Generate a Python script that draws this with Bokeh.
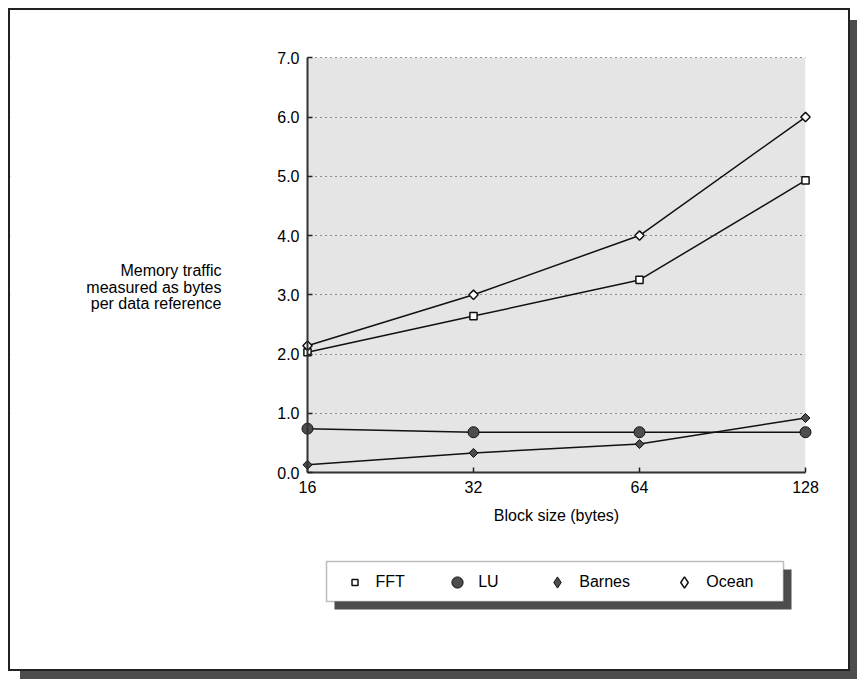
import math
from bokeh.plotting import figure
from bokeh.models import (Range1d, FixedTicker, PrintfTickFormatter, Label, BoxAnnotation,
                          Legend, LegendItem, ColumnDataSource)
from bokeh.embed import file_html
from bokeh.resources import INLINE

# ---- data ----
block_sizes = [16, 32, 64, 128]
fft = [2.03, 2.64, 3.25, 4.93]
lu = [0.74, 0.68, 0.68, 0.68]
barnes = [0.13, 0.33, 0.48, 0.92]
ocean = [2.14, 3.0, 4.0, 6.0]
y_ticks = [0, 1, 2, 3, 4, 5, 6, 7]
grid_ticks = [1, 2, 3, 4, 5, 6, 7]
x_tick_labels = ["16", "32", "64", "128"]
y_title_lines = ["Memory traffic", "measured as bytes", "per data reference"]
x_title = "Block size (bytes)"
series_names = ["FFT", "LU", "Barnes", "Ocean"]

FONT = "Liberation Sans"
INK = "#111111"
DARK = "#4d4d4d"
PANEL = "#e5e5e5"

# ---- layout (page pixels) ----
W, H = 838, 659            # canvas size
ORG_X, ORG_Y = 10, 10      # canvas top-left on the page
AX_X0, AX_X1 = 307.0, 805.0   # page x of first / last block size
AX_Y0, AX_Y7 = 472.0, 57.3    # page y of 0 and 7

px_per_doubling = (AX_X1 - AX_X0) / math.log2(block_sizes[-1] / block_sizes[0])
x_start = block_sizes[0] * 2 ** (-(AX_X0 - ORG_X) / px_per_doubling)
x_end = block_sizes[-1] * 2 ** ((ORG_X + W - AX_X1) / px_per_doubling)
px_per_unit = (AX_Y0 - AX_Y7) / (y_ticks[-1] - y_ticks[0])
y_start = y_ticks[0] - (ORG_Y + H - AX_Y0) / px_per_unit
y_end = y_ticks[-1] + (AX_Y7 - ORG_Y) / px_per_unit


def sx(page_x):
    return page_x - ORG_X


def sy(page_y):
    return ORG_Y + H - page_y


p = figure(width=W, height=H, x_axis_type="log",
           x_range=Range1d(x_start, x_end), y_range=Range1d(y_start, y_end),
           output_backend="svg", toolbar_location=None, title=None,
           min_border=0, min_border_left=0, min_border_right=0, min_border_top=0, min_border_bottom=0,
           background_fill_color="white", border_fill_color="white")
p.outline_line_color = None
p.styles = {"margin": f"{ORG_Y}px 0 0 {ORG_X}px",
            "box-shadow": "0 0 0 2px #222222, 10px 10px 0 0 #4d4d4d"}

# grey plotting panel
p.add_layout(BoxAnnotation(left=block_sizes[0], right=block_sizes[-1], bottom=y_ticks[0], top=y_ticks[-1],
                           fill_color=PANEL, fill_alpha=1, line_color=None, level="image"))

# grid
p.xgrid.visible = False
p.ygrid.ticker = FixedTicker(ticks=grid_ticks)
p.ygrid.grid_line_color = "#333333"
p.ygrid.grid_line_dash = "1 4"
p.ygrid.grid_line_width = 1

# white covers so grid stays inside the panel
p.add_layout(BoxAnnotation(right=block_sizes[0], fill_color="white", fill_alpha=1, line_color=None, level="underlay"))
p.add_layout(BoxAnnotation(left=block_sizes[-1], fill_color="white", fill_alpha=1, line_color=None, level="underlay"))

# axes
for ax in (p.xaxis, p.yaxis):
    ax.axis_line_color = "#333333"
    ax.axis_line_width = 2
    ax.major_tick_in = 5
    ax.major_tick_out = 0
    ax.major_tick_line_color = "#222222"
    ax.major_tick_line_width = 1.5
    ax.minor_tick_line_color = None
    ax.major_label_text_font = FONT
    ax.major_label_text_font_size = "16px"
    ax.major_label_text_color = "black"
    ax.major_label_standoff = 8

p.xaxis.ticker = FixedTicker(ticks=block_sizes)
p.xaxis.major_label_overrides = {v: s for v, s in zip(block_sizes, x_tick_labels)}
p.xaxis.fixed_location = y_ticks[0]
p.xaxis.bounds = (block_sizes[0], block_sizes[-1])
p.xaxis.axis_label = x_title
p.xaxis.axis_label_text_font = FONT
p.xaxis.axis_label_text_font_size = "16px"
p.xaxis.axis_label_text_font_style = "normal"
p.xaxis.axis_label_text_color = "black"
p.xaxis.axis_label_standoff = 11

p.yaxis.ticker = FixedTicker(ticks=y_ticks)
p.yaxis.formatter = PrintfTickFormatter(format="%.1f")
p.yaxis.fixed_location = block_sizes[0]
p.yaxis.bounds = (y_ticks[0], y_ticks[-1])

# series
for ys in (fft, lu, barnes, ocean):
    p.line(block_sizes, ys, line_color=INK, line_width=1.5)

r_fft = p.scatter(block_sizes, fft, marker="square", size=7.2, fill_color="white", line_color=INK, line_width=1.5)
r_lu = p.scatter(block_sizes, lu, marker="circle", size=11, fill_color=DARK, line_color=INK, line_width=1)
r_barnes = p.scatter(block_sizes, barnes, marker="square", angle=math.pi / 4, size=6.4,
                     fill_color=DARK, line_color=INK, line_width=1)
r_ocean = p.scatter(block_sizes, ocean, marker="square", angle=math.pi / 4, size=6.6,
                    fill_color="white", line_color=INK, line_width=1.5)

# legend proxies for diamond icons
nan_src = ColumnDataSource(dict(x=[float("nan")], y=[float("nan")]))
leg_barnes = p.scatter("x", "y", source=nan_src, marker="diamond", fill_color=DARK, line_color=INK, line_width=1)
leg_ocean = p.scatter("x", "y", source=nan_src, marker="diamond", fill_color="white", line_color=INK, line_width=1.5)

# legend box + shadow
p.add_layout(BoxAnnotation(left=sx(334), right=sx(791), top=sy(569), bottom=sy(609),
                           left_units="screen", right_units="screen", top_units="screen", bottom_units="screen",
                           fill_color=DARK, fill_alpha=1, line_color=None, level="guide"))
p.add_layout(BoxAnnotation(left=sx(326), right=sx(783), top=sy(561), bottom=sy(601),
                           left_units="screen", right_units="screen", top_units="screen", bottom_units="screen",
                           fill_color="white", fill_alpha=1, line_color="#222222", line_width=1.5, level="guide"))

legend_specs = [
    (series_names[0], r_fft, 346.5, 15, 14),
    (series_names[1], r_lu, 443.2, 28, 7),
    (series_names[2], leg_barnes, 543.3, 28, 8),
    (series_names[3], leg_ocean, 670.3, 28, 8),
]
for name, rend, lx, gw, standoff in legend_specs:
    lg = Legend(items=[LegendItem(label=name, renderers=[rend])], location=(sx(lx), sy(596.5)),
                orientation="horizontal", padding=0, margin=0, spacing=0,
                glyph_width=gw, glyph_height=30, label_height=30, label_standoff=standoff,
                label_text_font=FONT, label_text_font_size="16px", label_text_color="black",
                background_fill_alpha=0, border_line_color=None)
    p.add_layout(lg)

# y title (three right-aligned horizontal lines)
for text, yy in zip(y_title_lines, [270, 286.5, 303]):
    p.add_layout(Label(x=sx(221), y=sy(yy), x_units="screen", y_units="screen", text=text,
                       text_align="right", text_baseline="alphabetic", text_font=FONT,
                       text_font_size="16px", text_color="black"))

open("out.html", "w").write(file_html(p, INLINE))
